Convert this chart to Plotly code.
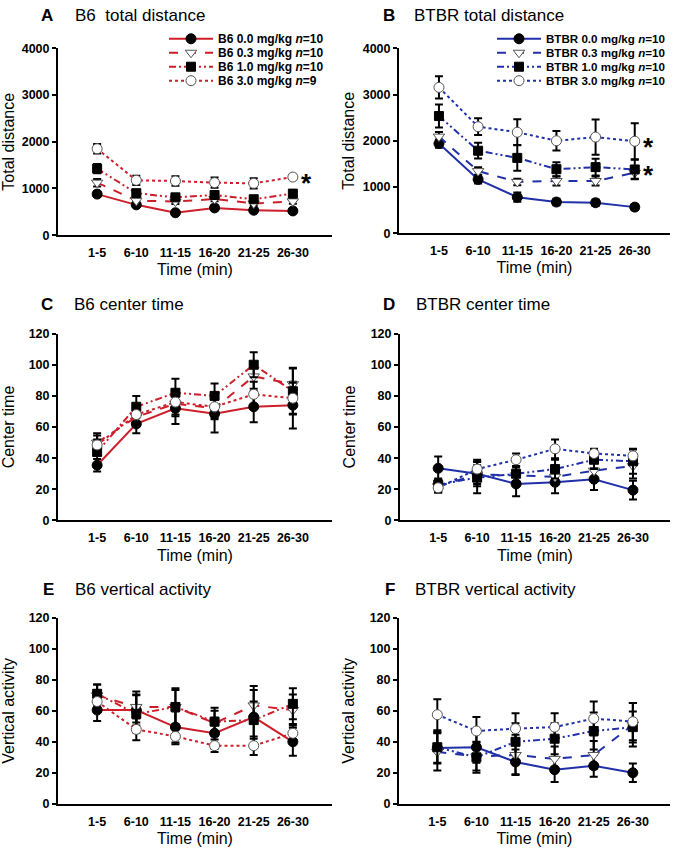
import plotly.graph_objects as go

W, H = 674, 858

times = ["1-5", "6-10", "11-15", "16-20", "21-25", "26-30"]
doses = ["0.0", "0.3", "1.0", "3.0"]
b6_n = [10, 10, 10, 9]
btbr_n = [10, 10, 10, 10]

# A  B6 total distance (one row per dose)
b6_dist = [[880, 650, 480, 585, 535, 520],
           [1125, 740, 720, 775, 680, 725],
           [1425, 900, 810, 860, 770, 890],
           [1850, 1175, 1160, 1125, 1110, 1245]]
b6_dist_err = [[60, 40, 30, 50, 50, 50],
               [80, 50, 50, 50, 50, 50],
               [100, 60, 60, 60, 50, 60],
               [100, 100, 100, 110, 110, 50]]

# B  BTBR total distance
btbr_dist = [[1940, 1165, 780, 675, 660, 565],
             [2090, 1345, 1110, 1130, 1130, 1310],
             [2535, 1785, 1630, 1385, 1430, 1380],
             [3155, 2305, 2185, 2000, 2080, 1990]]
btbr_dist_err = [[90, 90, 100, 70, 70, 60],
                 [100, 80, 70, 100, 100, 130],
                 [250, 170, 280, 150, 180, 210],
                 [240, 180, 280, 210, 380, 390]]

# C  B6 center time
b6_center = [[35.5, 62, 72, 68.5, 73, 74],
             [50, 66.5, 75, 72, 92.5, 87.5],
             [44, 73, 82, 80, 100, 83],
             [48.5, 68, 76, 73, 81, 78.5]]
b6_center_err = [[4, 6, 10, 12, 10, 15],
                 [6, 6, 8, 7, 8, 10],
                 [8, 7, 9, 8, 8, 15],
                 [6, 5, 8, 7, 8, 10]]

# D  BTBR center time
btbr_center = [[33.5, 30, 23.5, 24.5, 26.5, 19.5],
               [22, 29.5, 29, 28, 32, 35],
               [23, 27.5, 30, 33, 39, 38],
               [21, 33, 39, 46, 43, 41.5]]
btbr_center_err = [[7.5, 8, 8, 7, 7, 6],
                   [4, 6, 5, 5, 5, 8],
                   [4, 10, 5, 6, 6, 8],
                   [3, 6, 4, 6, 3, 4]]

# E  B6 vertical activity
b6_vert = [[60.5, 60.5, 49.5, 45.5, 56, 40],
           [70, 62.5, 62.5, 52, 63.5, 60.5],
           [71, 58, 62.5, 53, 54, 64.5],
           [66, 48, 43.5, 37.5, 37.5, 45.5]]
b6_vert_err = [[7, 10, 10, 10, 20, 9],
               [7, 10, 12, 8, 10, 10],
               [6, 12, 11, 9, 12, 10],
               [5, 7, 5, 4, 6, 6]]

# F  BTBR vertical activity
btbr_vert = [[36, 36.5, 27, 22, 24.5, 20],
             [33.5, 30.5, 31.5, 29, 31.5, 51],
             [36.5, 30, 40, 42, 47, 49.5],
             [57.5, 47, 48.5, 49.5, 55, 53]]
btbr_vert_err = [[10, 10, 8, 8, 7, 6],
                 [12, 9, 13, 8, 9, 14],
                 [10, 10, 12, 10, 12, 10],
                 [10, 9, 10, 9, 11, 12]]

RED = "#CC1F2A"
BLUE = "#2030A8"
FONT = "Arial, Liberation Sans, sans-serif"

dose_style = [
    dict(dash="solid", symbol="circle", fill="black", edge="black", size=10),
    dict(dash="dash", symbol="triangle-down", fill="white", edge="#555555", size=10),
    dict(dash="7px,3px,2px,3px,2px,3px", symbol="square", fill="black", edge="black", size=9),
    dict(dash="dot", symbol="circle", fill="white", edge="#555555", size=10),
]


def px_x(p):
    return p / W


def px_y(p):
    return 1 - p / H


# panel boxes in pixels: left, right, top, bottom
panels = [
    dict(key="A", name="B6  total distance", mean=b6_dist, err=b6_dist_err, color=RED,
         box=(58, 332, 42, 232), xr=[-1, 6], ymax=4000, dtick=1000, ytitle="Total distance",
         letter_x=47, text_x=73, title_y=9, strain="B6", n=b6_n, leg_x=164, leg_font=12),
    dict(key="B", name="BTBR total distance", mean=btbr_dist, err=btbr_dist_err, color=BLUE,
         box=(399, 670, 42, 230), xr=[-1.02, 5.9], ymax=4000, dtick=1000, ytitle="Total distance",
         letter_x=389, text_x=412, title_y=9, strain="BTBR", n=btbr_n, leg_x=492, leg_font=11.6),
    dict(key="C", name="B6 center time", mean=b6_center, err=b6_center_err, color=RED,
         box=(58, 332, 332, 522), xr=[-1, 6], ymax=120, dtick=20, ytitle="Center time",
         letter_x=47, text_x=72, title_y=302),
    dict(key="D", name="BTBR center time", mean=btbr_center, err=btbr_center_err, color=BLUE,
         box=(400, 670, 332, 522), xr=[-0.98, 5.95], ymax=120, dtick=20, ytitle="Center time",
         letter_x=389, text_x=414, title_y=302),
    dict(key="E", name="B6 vertical activity", mean=b6_vert, err=b6_vert_err, color=RED,
         box=(58, 332, 621, 810), xr=[-1, 6], ymax=120, dtick=20, ytitle="Vertical activity",
         letter_x=48, text_x=73, title_y=592),
    dict(key="F", name="BTBR vertical activity", mean=btbr_vert, err=btbr_vert_err, color=BLUE,
         box=(399, 670, 621, 810), xr=[-0.98, 5.95], ymax=120, dtick=20, ytitle="Vertical activity",
         letter_x=390, text_x=413, title_y=592),
]

fig = go.Figure()
annotations = []
legend_count = 0
layout = {}

for i, p in enumerate(panels):
    sfx = "" if i == 0 else str(i + 1)
    xa, ya = "x" + sfx, "y" + sfx
    left, right, top, bottom = p["box"]

    for d, st in enumerate(dose_style):
        show_leg = "strain" in p
        trace_kw = {}
        name = None
        if show_leg:
            legend_count += 1
            lid = "legend" if legend_count == 1 else "legend%d" % legend_count
            trace_kw["legend"] = lid
            name = "%s %s mg/kg <i>n</i>=%d" % (p["strain"], doses[d], p["n"][d])
            # one legend per row so rows can sit 14 px apart like the original
            layout[lid] = dict(
                x=px_x(p["leg_x"]), xanchor="left",
                y=px_y(37.3 + 14.2 * d - 5), yanchor="middle",
                bgcolor="rgba(0,0,0,0)", borderwidth=0, itemwidth=44,
                font=dict(family=FONT, size=p["leg_font"], color="black", weight="bold"),
            )
        fig.add_trace(go.Scatter(
            x=times, y=p["mean"][d], xaxis=xa, yaxis=ya,
            mode="lines+markers", name=name, showlegend=show_leg,
            line=dict(color=p["color"], width=2, dash=st["dash"]),
            marker=dict(symbol=st["symbol"], size=st["size"], color=st["fill"],
                        line=dict(color=st["edge"], width=1)),
            error_y=dict(type="data", array=p["err"][d], color="black",
                         thickness=2, width=4),
            **trace_kw,
        ))

    ytick_w = 28 if p["ymax"] >= 1000 else 21
    layout["xaxis" + sfx] = dict(
        domain=[px_x(left), px_x(right)], anchor=ya, range=p["xr"],
        type="category", showline=True, linecolor="black", linewidth=2,
        showgrid=False, zeroline=False, ticks="", ticklabelstandoff=5,
        tickfont=dict(family=FONT, size=12.5, color="black", weight="bold"),
        title=dict(text="Time (min)", font=dict(family=FONT, size=16, color="black"), standoff=5),
    )
    layout["yaxis" + sfx] = dict(
        domain=[px_y(bottom), px_y(top)], anchor=xa, range=[0, p["ymax"]],
        dtick=p["dtick"], showline=True, linecolor="black", linewidth=2,
        showgrid=False, zeroline=False, ticks="outside", ticklen=4, tickwidth=2,
        tickcolor="black",
        tickfont=dict(family=FONT, size=12.5, color="black", weight="bold"),
        title=dict(text=p["ytitle"], font=dict(family=FONT, size=16, color="black"),
                   standoff=32 - ytick_w),
    )

    annotations.append(dict(
        text="<b>%s</b>" % p["key"], xref="paper", yref="paper",
        x=px_x(p["letter_x"]), y=px_y(p["title_y"]), xanchor="center", yanchor="middle",
        showarrow=False, font=dict(family=FONT, size=17, color="black"),
    ))
    annotations.append(dict(
        text=p["name"], xref="paper", yref="paper",
        x=px_x(p["text_x"]), y=px_y(p["title_y"]), xanchor="left", yanchor="middle",
        showarrow=False, font=dict(family=FONT, size=17, color="black"),
    ))

# significance stars next to the last time bin
stars = [("x", "y", b6_dist[3][5]), ("x2", "y2", btbr_dist[3][5]), ("x2", "y2", btbr_dist[2][5])]
for xr, yr, yv in stars:
    annotations.append(dict(
        text="<b>*</b>", xref=xr, yref=yr, x=times[5], y=yv, xshift=14, yshift=-6,
        showarrow=False, font=dict(family=FONT, size=26, color="black"),
    ))

fig.update_layout(
    width=W, height=H,
    margin=dict(l=0, r=0, t=0, b=0),
    paper_bgcolor="white", plot_bgcolor="white",
    font=dict(family=FONT, color="black"),
    annotations=annotations,
    **layout,
)

# drop the browser's default body margin so the figure sits at the page corner
fig.write_html("out.html", config={"displayModeBar": False},
               post_script="document.body.style.margin = '0';")
